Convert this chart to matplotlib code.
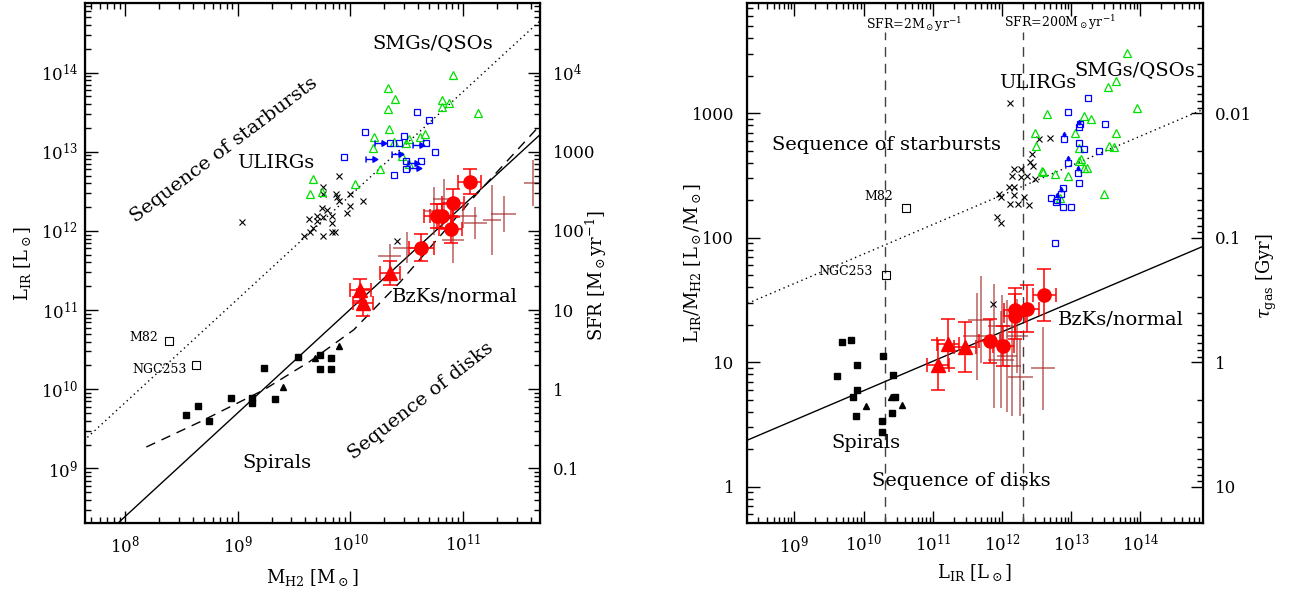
import numpy as np
import matplotlib
matplotlib.use("Agg")
import matplotlib.pyplot as plt
from matplotlib.path import Path
from matplotlib.ticker import LogLocator, NullFormatter, FuncFormatter

plt.rcParams["font.family"] = ["DejaVu Serif"]
plt.rcParams["mathtext.fontset"] = "dejavuserif"

# ---------------- left panel: L_IR vs M_H2 (log10 values) ----------------
smg_tri_logm = [10.91, 10.33, 10.40, 10.33, 10.81, 10.88, 10.81, 11.13, 10.34, 10.66, 10.21, 10.62,
                10.52, 10.39, 10.49, 10.20, 10.46, 10.26, 10.52, 9.67, 9.64, 9.75, 10.04]
smg_tri_logl = [13.97, 13.81, 13.67, 13.54, 13.65, 13.62, 13.56, 13.49, 13.29, 13.23, 13.19, 13.19,
                13.16, 13.12, 13.11, 13.05, 12.95, 12.78, 12.85, 12.66, 12.47, 12.49, 12.59]
smg_sq_logm = [10.59, 10.70, 10.13, 10.48, 9.94, 10.35, 10.43, 10.67, 10.75, 10.49, 10.63, 10.39, 10.49]
smg_sq_logl = [13.50, 13.40, 13.25, 13.20, 12.94, 13.11, 13.11, 13.11, 13.00, 12.88, 12.88, 12.71, 12.78]
smg_lim_logm = [10.26, 10.18, 10.41, 10.60, 10.56, 10.57]
smg_lim_logl = [13.11, 12.91, 12.97, 13.08, 12.86, 12.80]
ulirg_logm = [9.04, 9.90, 9.76, 9.76, 9.87, 9.88, 9.90, 10.00, 10.11, 10.00, 9.97, 9.75, 9.79,
              9.70, 9.76, 9.84, 9.63, 9.70, 9.84, 9.64, 9.59, 9.76, 9.84, 9.86, 9.67, 10.41]
ulirg_logl = [12.11, 12.69, 12.55, 12.47, 12.46, 12.43, 12.38, 12.46, 12.38, 12.32, 12.23, 12.29, 12.26,
              12.19, 12.17, 12.19, 12.15, 12.12, 12.10, 11.98, 11.94, 11.93, 11.98, 11.98, 12.04, 11.87]
bzk_logm = [11.06, 10.91, 10.77, 10.81, 10.89, 10.63]
bzk_logl = [12.62, 12.35, 12.19, 12.19, 12.02, 11.79]
bzk_xerr = [0.10, 0.10, 0.12, 0.10, 0.10, 0.11]
bzk_yerr = [0.16, 0.18, 0.15, 0.15, 0.17, 0.17]
bzk_tri_logm = [10.09, 10.11, 10.35]
bzk_tri_logl = [11.25, 11.09, 11.47]
bzk_tri_xerr = [0.09, 0.09, 0.09]
bzk_tri_yerr = [0.14, 0.17, 0.15]
other_logm = [11.36, 11.11, 11.26, 10.74, 10.91, 10.50, 10.35, 11.62, 11.00, 10.83]
other_logl = [12.21, 12.10, 12.14, 12.25, 11.89, 11.79, 11.68, 12.61, 12.19, 12.40]
other_xerr = [0.11, 0.10, 0.08, 0.09, 0.10, 0.12, 0.10, 0.08, 0.12, 0.10]
other_yerr = [0.23, 0.20, 0.44, 0.30, 0.30, 0.20, 0.15, 0.29, 0.15, 0.25]
spiral_sq_logm = [8.54, 8.65, 8.75, 8.94, 9.13, 9.13, 9.23, 9.33, 9.54, 9.73, 9.73, 9.83, 9.83]
spiral_sq_logl = [9.67, 9.79, 9.60, 9.89, 9.89, 9.82, 10.27, 9.88, 10.41, 10.43, 10.25, 10.40, 10.25]
spiral_tri_logm = [9.40, 9.69, 9.90]
spiral_tri_logl = [10.03, 10.39, 10.55]
local_names = ["M82", "NGC253"]
local_logm = [8.39, 8.63]
local_logl = [10.61, 10.30]

# relations (two end points each) and the dashed curve
disk_line_m = [1e7, 1e12]
disk_line_l = [1.2e7, 4.27e13]
sb_line_m = [1e7, 1e12]
sb_line_l = [3.3e8, 1.17e15]
curve_logm = [8.19, 8.67, 9.23, 9.64, 10.03, 10.44, 11.08, 11.68]
curve_logl = [9.27, 9.59, 9.99, 10.35, 10.75, 11.35, 12.40, 13.33]

# ---------------- right panel: L_IR/M_H2 vs L_IR (log10 values) ----------------
r_smg_tri_logl = [13.80, 13.65, 13.53, 13.95, 12.65, 13.18, 13.28, 12.47, 13.05, 13.64, 12.49, 13.11,
                  13.55, 13.62, 12.57, 12.59, 12.77, 12.95, 13.11, 13.14, 13.19, 13.22, 13.48, 12.83]
r_smg_tri_logr = [3.48, 3.26, 3.21, 3.04, 2.99, 2.98, 2.95, 2.84, 2.84, 2.84, 2.74, 2.72,
                  2.74, 2.73, 2.54, 2.53, 2.51, 2.50, 2.62, 2.63, 2.56, 2.56, 2.35, 2.32]
r_smg_sq_logl = [13.24, 12.95, 13.49, 13.13, 13.11, 13.19, 13.40, 13.11, 12.88, 12.70, 12.78, 12.88, 13.00, 12.76]
r_smg_sq_logr = [3.12, 3.01, 2.91, 2.91, 2.76, 2.71, 2.70, 2.44, 2.40, 2.32, 2.29, 2.25, 2.25, 1.96]
r_smg_lim_logl = [13.11, 12.90, 12.95, 13.09, 12.85, 12.80]
r_smg_lim_logr = [2.89, 2.79, 2.60, 2.52, 2.35, 2.30]
r_ulirg_logl = [12.11, 12.54, 12.69, 12.43, 12.41, 12.45, 12.17, 12.28, 12.15, 12.27, 12.36, 12.48,
                12.10, 12.17, 12.17, 12.31, 11.95, 11.98, 12.11, 12.23, 12.39, 11.93, 11.98, 11.87]
r_ulirg_logr = [3.08, 2.79, 2.80, 2.67, 2.61, 2.58, 2.55, 2.55, 2.50, 2.49, 2.50, 2.47,
                2.41, 2.41, 2.34, 2.33, 2.35, 2.33, 2.27, 2.27, 2.26, 2.17, 2.12, 1.47]
r_bzk_logl = [12.61, 12.36, 12.18, 12.18, 11.82, 12.02]
r_bzk_logr = [1.54, 1.43, 1.42, 1.37, 1.17, 1.13]
r_bzk_xerr = [0.17, 0.17, 0.15, 0.15, 0.15, 0.15]
r_bzk_yerr = [0.21, 0.19, 0.18, 0.18, 0.18, 0.16]
r_tri_logl = [11.07, 11.22, 11.46]
r_tri_logr = [0.98, 1.15, 1.12]
r_tri_xerr = [0.16, 0.16, 0.16]
r_tri_yerr = [0.20, 0.20, 0.20]
r_other_logl = [12.59, 12.26, 11.98, 11.69, 11.88, 12.07, 12.15, 11.64, 12.00, 12.22]
r_other_logr = [0.95, 0.88, 1.02, 1.34, 1.13, 1.05, 0.97, 1.21, 1.29, 1.21]
r_other_xerr = [0.17, 0.18, 0.19, 0.18, 0.10, 0.15, 0.12, 0.20, 0.20, 0.15]
r_other_yerr = [0.33, 0.31, 0.39, 0.35, 0.50, 0.45, 0.40, 0.35, 0.25, 0.30]
r_spiral_sq_logl = [9.68, 9.81, 10.28, 9.90, 9.62, 9.91, 9.84, 10.43, 10.45, 9.89, 10.41, 10.26, 10.26]
r_spiral_sq_logr = [1.16, 1.18, 1.05, 0.98, 0.89, 0.78, 0.72, 0.90, 0.72, 0.57, 0.59, 0.53, 0.44]
r_spiral_tri_logl = [10.04, 10.40, 10.55]
r_spiral_tri_logr = [0.65, 0.72, 0.66]
r_local_logl = [10.61, 10.32]
r_local_logr = [2.24, 1.70]
r_disk_line_l = [1e8, 1e15]
r_disk_line_r = [1.99, 89.9]
r_sb_line_l = [1e8, 1e15]
r_sb_line_r = [24.9, 1130.0]
sfr_marks = [2, 200]

GREEN = "#00e000"
BLUE = "#0000ff"
RED = "#ff0000"
BROWN = "#a52a2a"
LABEL_FS = 14

# custom markers: lower limit arrows
arrow_right = Path([(-0.7, -0.4), (-0.7, 0.4), (-0.7, 0.0), (0.3, 0.0),
                    (0.2, -0.35), (0.8, 0.0), (0.2, 0.35), (0.2, -0.35)],
                   [Path.MOVETO, Path.LINETO, Path.MOVETO, Path.LINETO,
                    Path.MOVETO, Path.LINETO, Path.LINETO, Path.CLOSEPOLY])
arrow_up = Path([(0.0, 0.5), (0.0, 1.1), (-0.35, 1.0), (0.0, 1.6), (0.35, 1.0), (-0.35, 1.0)],
                [Path.MOVETO, Path.LINETO, Path.MOVETO, Path.LINETO, Path.LINETO, Path.CLOSEPOLY])


def p(v):
    return 10 ** np.asarray(v, dtype=float)


def dex_err(v, e):
    v = p(v)
    e = np.asarray(e)
    return [v - v * 10 ** (-e), v * 10 ** e - v]


def style(ax):
    ax.set_xscale("log")
    ax.set_yscale("log")
    for s in ax.spines.values():
        s.set_linewidth(1.6)
    ax.xaxis.set_minor_locator(LogLocator(base=10, subs=np.arange(2, 10), numticks=100))
    ax.yaxis.set_minor_locator(LogLocator(base=10, subs=np.arange(2, 10), numticks=100))
    ax.xaxis.set_minor_formatter(NullFormatter())
    ax.yaxis.set_minor_formatter(NullFormatter())
    ax.tick_params(which="both", direction="in", top=True, right=False, width=1)
    ax.tick_params(which="major", length=9, labelsize=12)
    ax.tick_params(which="minor", length=4.5)
    ax.tick_params(axis="x", which="major", pad=8)
    ax.tick_params(axis="y", which="major", pad=5)


def style_twin(tw):
    tw.set_yscale("log")
    tw.yaxis.set_minor_locator(LogLocator(base=10, subs=np.arange(2, 10), numticks=100))
    tw.yaxis.set_minor_formatter(NullFormatter())
    tw.tick_params(which="both", direction="in", width=1)
    tw.tick_params(which="major", length=9, labelsize=12, pad=9)
    tw.tick_params(which="minor", length=4.5)


fig = plt.figure(figsize=(12.89, 5.90), dpi=100)
ax1 = fig.add_axes([0.0659, 0.1136, 0.3530, 0.8814])
ax2 = fig.add_axes([0.5793, 0.1136, 0.3538, 0.8814])

# ================= left panel =================
ax1.plot(disk_line_m, disk_line_l, color="black", lw=1.0)
ax1.plot(sb_line_m, sb_line_l, color="black", lw=1.0, ls=(0, (1, 2.5)))
ax1.plot(p(curve_logm), p(curve_logl), color="black", lw=1.0, ls=(0, (7, 5)))

ax1.errorbar(p(other_logm), p(other_logl), xerr=dex_err(other_logm, other_xerr),
             yerr=dex_err(other_logl, other_yerr), fmt="none", ecolor=BROWN, alpha=0.75,
             elinewidth=1.1, capsize=0, zorder=2)
ax1.plot(p(ulirg_logm), p(ulirg_logl), "x", color="black", ms=4, mew=0.8)
ax1.plot(p(smg_tri_logm), p(smg_tri_logl), "^", mfc="none", mec=GREEN, ms=5.5, mew=0.9)
ax1.plot(p(smg_sq_logm), p(smg_sq_logl), "s", mfc="none", mec=BLUE, ms=5, mew=0.9)
ax1.plot(p(smg_lim_logm), p(smg_lim_logl), marker=arrow_right, ls="none", color=BLUE,
         mfc=BLUE, ms=9, mew=1.0)
ax1.plot(p(spiral_sq_logm), p(spiral_sq_logl), "s", color="black", ms=4.5)
ax1.plot(p(spiral_tri_logm), p(spiral_tri_logl), "^", color="black", ms=4)
ax1.plot(p(local_logm), p(local_logl), "s", mfc="none", mec="black", ms=6, mew=0.8)
ax1.errorbar(p(bzk_logm), p(bzk_logl), xerr=dex_err(bzk_logm, bzk_xerr),
             yerr=dex_err(bzk_logl, bzk_yerr), fmt="o", color=RED, ms=9.5,
             ecolor=RED, elinewidth=1.1, capsize=5, capthick=1.1, zorder=4)
ax1.errorbar(p(bzk_tri_logm), p(bzk_tri_logl), xerr=dex_err(bzk_tri_logm, bzk_tri_xerr),
             yerr=dex_err(bzk_tri_logl, bzk_tri_yerr), fmt="^", color=RED, ms=10,
             ecolor=RED, elinewidth=1.1, capsize=5, capthick=1.1, zorder=4)

style(ax1)
ax1.set_xlim(10 ** 7.645, 10 ** 11.683)
ax1.set_ylim(10 ** 8.31, 10 ** 14.88)
ax1.set_xlabel(r"M$_{\rm H2}$ [M$_\odot$]", fontsize=13, va="center")
ax1.set_ylabel(r"L$_{\rm IR}$ [L$_\odot$]", fontsize=13, va="center")
ax1.xaxis.set_label_coords(0.5, -0.104)
ax1.yaxis.set_label_coords(-0.138, 0.5)

sfr_ax = ax1.twinx()
style_twin(sfr_ax)
sfr_ax.set_ylim(10 ** 8.31 * 1e-10, 10 ** 14.88 * 1e-10)
sfr_ax.yaxis.set_major_formatter(FuncFormatter(
    lambda v, _: r"$10^4$" if v > 5000 else f"{v:g}"))
sfr_ax.set_ylabel(r"SFR [M$_\odot$yr$^{-1}$]", fontsize=13, rotation=90, va="center")
sfr_ax.yaxis.set_label_coords(1.125, 0.475)

t1 = ax1.transAxes
ax1.text(0.305, 0.717, "Sequence of starbursts", transform=t1, rotation=37,
         ha="center", va="center", fontsize=LABEL_FS)
ax1.text(0.420, 0.692, "ULIRGs", transform=t1, ha="center", va="center", fontsize=LABEL_FS)
ax1.text(0.765, 0.923, "SMGs/QSOs", transform=t1, ha="center", va="center", fontsize=LABEL_FS)
ax1.text(0.813, 0.435, "BzKs/normal", transform=t1, ha="center", va="center", fontsize=LABEL_FS)
ax1.text(0.739, 0.234, "Sequence of disks", transform=t1, rotation=38,
         ha="center", va="center", fontsize=LABEL_FS)
ax1.text(0.422, 0.115, "Spirals", transform=t1, ha="center", va="center", fontsize=LABEL_FS)
ax1.text(0.160, 0.356, local_names[0], transform=t1, ha="right", va="center", fontsize=9)
ax1.text(0.224, 0.296, local_names[1], transform=t1, ha="right", va="center", fontsize=9)

# ================= right panel =================
ylo, yhi = 10 ** -0.291, 10 ** 3.886
for s in sfr_marks:
    ax2.plot([s * 1e10, s * 1e10], [ylo, 4500], color="#404040", lw=1.0, ls=(0, (7, 5)))
ax2.plot(r_disk_line_l, r_disk_line_r, color="black", lw=1.0)
ax2.plot(r_sb_line_l, r_sb_line_r, color="black", lw=1.0, ls=(0, (1, 2.5)))

ax2.errorbar(p(r_other_logl), p(r_other_logr), xerr=dex_err(r_other_logl, r_other_xerr),
             yerr=dex_err(r_other_logr, r_other_yerr), fmt="none", ecolor=BROWN, alpha=0.75,
             elinewidth=1.1, capsize=0, zorder=2)
ax2.plot(p(r_ulirg_logl), p(r_ulirg_logr), "x", color="black", ms=4, mew=0.8)
ax2.plot(p(r_smg_tri_logl), p(r_smg_tri_logr), "^", mfc="none", mec=GREEN, ms=5.5, mew=0.9)
ax2.plot(p(r_smg_sq_logl), p(r_smg_sq_logr), "s", mfc="none", mec=BLUE, ms=5, mew=0.9)
ax2.plot(p(r_smg_lim_logl), p(r_smg_lim_logr), "s", mfc="none", mec=BLUE, ms=4, mew=0.9)
ax2.plot(p(r_smg_lim_logl), p(r_smg_lim_logr), marker=arrow_up, ls="none", color=BLUE,
         mfc=BLUE, ms=10, mew=1.0)
ax2.plot(p(r_spiral_sq_logl), p(r_spiral_sq_logr), "s", color="black", ms=4.5)
ax2.plot(p(r_spiral_tri_logl), p(r_spiral_tri_logr), "^", color="black", ms=4)
ax2.plot(p(r_local_logl), p(r_local_logr), "s", mfc="none", mec="black", ms=5.5, mew=0.8)
ax2.errorbar(p(r_bzk_logl), p(r_bzk_logr), xerr=dex_err(r_bzk_logl, r_bzk_xerr),
             yerr=dex_err(r_bzk_logr, r_bzk_yerr), fmt="o", color=RED, ms=9.5,
             ecolor=RED, elinewidth=1.1, capsize=5, capthick=1.1, zorder=4)
ax2.errorbar(p(r_tri_logl), p(r_tri_logr), xerr=dex_err(r_tri_logl, r_tri_xerr),
             yerr=dex_err(r_tri_logr, r_tri_yerr), fmt="^", color=RED, ms=10,
             ecolor=RED, elinewidth=1.1, capsize=5, capthick=1.1, zorder=4)

style(ax2)
ax2.set_xlim(10 ** 8.31, 10 ** 14.9)
ax2.set_ylim(ylo, yhi)
ax2.yaxis.set_major_formatter(FuncFormatter(lambda v, _: f"{v:g}"))
ax2.tick_params(axis="y", which="major", pad=9)
ax2.set_xlabel(r"L$_{\rm IR}$ [L$_\odot$]", fontsize=13, va="center")
ax2.set_ylabel(r"L$_{\rm IR}$/M$_{\rm H2}$ [L$_\odot$/M$_\odot$]", fontsize=13, va="center")
ax2.xaxis.set_label_coords(0.5, -0.096)
ax2.yaxis.set_label_coords(-0.118, 0.5)

tau_ax = ax2.twinx()
style_twin(tau_ax)
tau_ax.set_ylim(10 / ylo, 10 / yhi)
tau_ax.yaxis.set_major_formatter(FuncFormatter(lambda v, _: f"{v:g}"))
tau_ax.set_ylabel(r"$\tau_{\rm gas}$ [Gyr]", fontsize=13, rotation=90, va="center")
tau_ax.yaxis.set_label_coords(1.141, 0.475)

t2 = ax2.transAxes
ax2.text(0.366, 0.958, r"SFR=2M$_\odot$yr$^{-1}$", transform=t2, ha="center", va="center", fontsize=9)
ax2.text(0.686, 0.963, r"SFR=200M$_\odot$yr$^{-1}$", transform=t2, ha="center", va="center", fontsize=9)
ax2.text(0.639, 0.847, "ULIRGs", transform=t2, ha="center", va="center", fontsize=LABEL_FS)
ax2.text(0.851, 0.870, "SMGs/QSOs", transform=t2, ha="center", va="center", fontsize=LABEL_FS)
ax2.text(0.307, 0.727, "Sequence of starbursts", transform=t2, ha="center", va="center", fontsize=LABEL_FS)
ax2.text(0.321, 0.628, local_names[0], transform=t2, ha="right", va="center", fontsize=9)
ax2.text(0.277, 0.483, local_names[1], transform=t2, ha="right", va="center", fontsize=9)
ax2.text(0.821, 0.392, "BzKs/normal", transform=t2, ha="center", va="center", fontsize=LABEL_FS)
ax2.text(0.262, 0.153, "Spirals", transform=t2, ha="center", va="center", fontsize=LABEL_FS)
ax2.text(0.470, 0.081, "Sequence of disks", transform=t2, ha="center", va="center", fontsize=LABEL_FS)

fig.savefig("out.png", dpi=100)
